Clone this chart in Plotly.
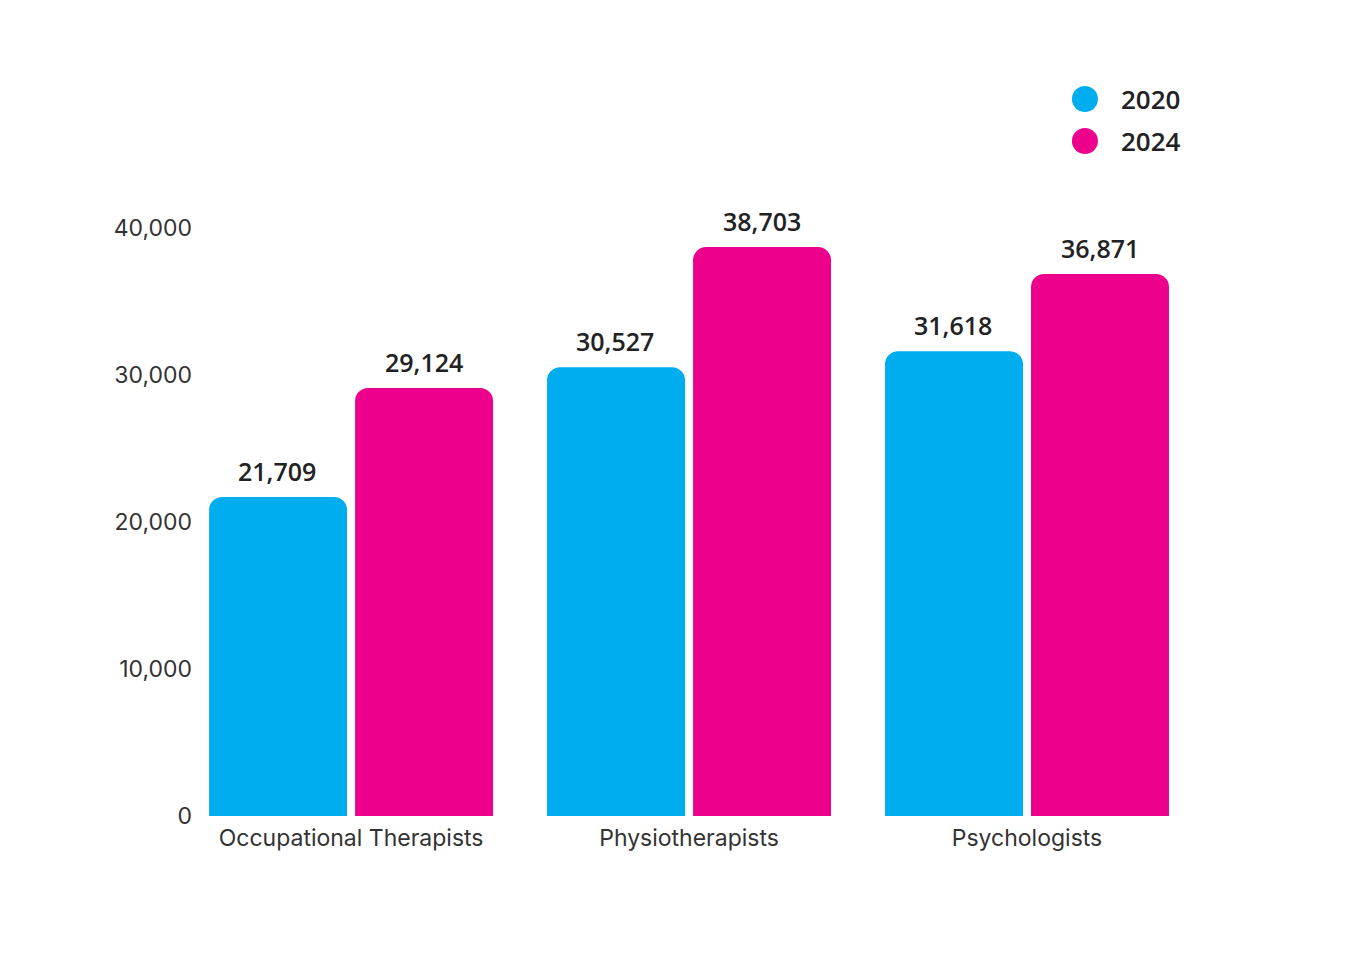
import plotly.graph_objects as go

categories = ["Occupational Therapists", "Physiotherapists", "Psychologists"]
years = ["2020", "2024"]
values_2020 = [21709, 30527, 31618]
values_2024 = [29124, 38703, 36871]
y_ticks = [0, 10000, 20000, 30000, 40000]

colors = {"2020": "#00AEEF", "2024": "#EC008C"}

fig = go.Figure()
for yr, vals in zip(years, [values_2020, values_2024]):
    fig.add_trace(go.Bar(
        x=categories, y=vals, name=yr,
        marker=dict(color=colors[yr], line=dict(width=0), cornerradius=13),
        showlegend=False,
    ))

# value labels above bars
for i, cat in enumerate(categories):
    for yr, vals, shift in [("2020", values_2020, -74), ("2024", values_2024, 73)]:
        fig.add_annotation(
            x=cat, y=vals[i], text=f"{vals[i]:,}", showarrow=False,
            xref="x", yref="y", xanchor="center", yanchor="bottom",
            xshift=shift, yshift=7,
            font=dict(family="Open Sans", size=25, color="#222222", weight=600),
        )

# legend drawn by hand (circles + text)
for yr, ypos in [("2020", 1.2194), ("2024", 1.148)]:
    fig.add_shape(
        type="circle", xref="paper", yref="paper",
        xsizemode="pixel", ysizemode="pixel",
        xanchor=0.8886, yanchor=ypos, x0=-13, x1=13, y0=-13, y1=13,
        fillcolor=colors[yr], line=dict(width=0),
    )
    fig.add_annotation(
        x=0.923, y=ypos, xref="paper", yref="paper", text=yr,
        showarrow=False, xanchor="left", yanchor="middle",
        font=dict(family="Open Sans", size=26, color="#222222", weight=600),
    )

fig.update_layout(
    width=1350, height=960,
    margin=dict(l=191, r=162, t=220, b=152),
    plot_bgcolor="white", paper_bgcolor="white",
    barmode="group", bargap=0.136, bargroupgap=0.055,
    font=dict(family="Inter", size=23, color="#333333"),
    xaxis=dict(range=[-0.45, 2.5], showgrid=False, showline=False, ticks="",
               ticklabelstandoff=6,
               tickfont=dict(family="Inter", size=23, color="#333333")),
    yaxis=dict(range=[0, 40000], tickvals=y_ticks, tickformat=",",
               showgrid=False, zeroline=False, showline=False, ticks="",
               ticklabelstandoff=6,
               tickfont=dict(family="Inter", size=23, color="#333333")),
)

fig.write_html("out.html")
